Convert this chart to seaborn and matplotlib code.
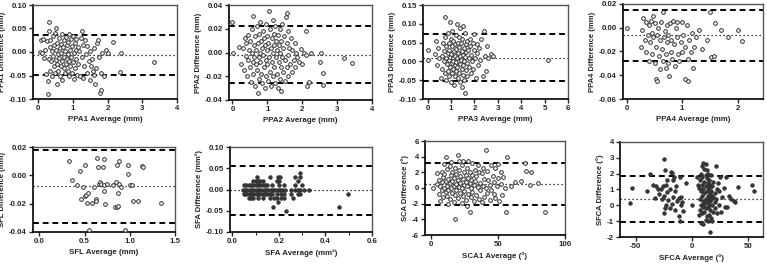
import numpy as np
import pandas as pd
import seaborn as sns
import matplotlib
matplotlib.use("Agg")
import matplotlib.pyplot as plt
from matplotlib.ticker import FuncFormatter, MultipleLocator

# --- DATA ---
ppa1_avg = [0.05, 0.08, 0.12, 0.15, 0.18, 0.2, 0.22, 0.25, 0.27, 0.28, 0.3, 0.3, 0.32, 0.33, 0.35, 0.35, 0.38, 0.4, 0.4,
            0.42, 0.43, 0.45, 0.45, 0.47, 0.48, 0.5, 0.5, 0.52, 0.53, 0.55, 0.55, 0.57, 0.58, 0.6, 0.6, 0.62, 0.63, 0.65,
            0.65, 0.67, 0.68, 0.7, 0.7, 0.72, 0.73, 0.75, 0.75, 0.77, 0.78, 0.8, 0.8, 0.82, 0.83, 0.85, 0.85, 0.87, 0.88,
            0.9, 0.9, 0.92, 0.93, 0.95, 0.95, 0.97, 0.98, 1.0, 1.0, 1.02, 1.03, 1.05, 1.05, 1.08, 1.1, 1.1, 1.12, 1.15,
            1.15, 1.18, 1.2, 1.22, 1.25, 1.25, 1.28, 1.3, 1.32, 1.35, 1.38, 1.4, 1.42, 1.45, 1.48, 1.5, 1.52, 1.55, 1.58,
            1.6, 1.62, 1.65, 1.68, 1.7, 1.72, 1.75, 1.78, 1.8, 1.82, 1.85, 1.9, 1.95, 2.0, 2.15, 2.35, 2.38, 3.35]
ppa1_diff = [0.0, 0.025, -0.002, 0.027, -0.012, 0.005, -0.046, 0.024, -0.062, -0.09, 0.063, 0.045, -0.015, 0.01, -0.04,
             0.026, -0.02, 0.002, -0.052, 0.035, -0.008, -0.03, 0.015, -0.045, 0.04, -0.018, 0.005, 0.052, -0.068,
             -0.025, 0.02, -0.005, -0.04, 0.03, -0.012, 0.008, -0.05, -0.03, 0.018, -0.002, 0.038, -0.02, -0.06, 0.01,
             -0.035, 0.025, -0.01, -0.045, 0.003, -0.025, 0.032, -0.015, 0.015, -0.04, -0.005, 0.022, -0.052, 0.038,
             -0.02, 0.005, -0.03, 0.028, -0.01, -0.045, 0.012, -0.022, 0.035, -0.002, -0.058, 0.02, -0.035, 0.005,
             -0.015, 0.028, -0.048, 0.01, -0.025, 0.002, -0.05, 0.03, 0.045, -0.01, -0.055, 0.015, -0.03, 0.025, -0.005,
             -0.045, 0.012, -0.02, -0.06, 0.002, -0.03, -0.015, -0.04, -0.048, 0.008, -0.068, -0.035, 0.02, 0.025,
             -0.01, -0.088, -0.08, -0.045, -0.002, -0.05, 0.005, -0.003, 0.022, -0.042, -0.002, -0.022]

ppa2_avg = [0.0, 0.02, 0.2, 0.25, 0.3, 0.32, 0.35, 0.38, 0.4, 0.42, 0.45, 0.45, 0.48, 0.5, 0.5, 0.52, 0.55, 0.55, 0.58,
            0.6, 0.6, 0.62, 0.63, 0.65, 0.65, 0.67, 0.68, 0.7, 0.7, 0.72, 0.72, 0.75, 0.75, 0.77, 0.78, 0.8, 0.8, 0.82,
            0.83, 0.85, 0.85, 0.87, 0.88, 0.9, 0.9, 0.92, 0.93, 0.95, 0.95, 0.97, 0.98, 1.0, 1.0, 1.02, 1.03, 1.05,
            1.05, 1.07, 1.08, 1.1, 1.1, 1.12, 1.13, 1.15, 1.15, 1.17, 1.18, 1.2, 1.2, 1.22, 1.23, 1.25, 1.25, 1.27,
            1.28, 1.3, 1.3, 1.32, 1.33, 1.35, 1.35, 1.37, 1.38, 1.4, 1.4, 1.42, 1.43, 1.45, 1.45, 1.48, 1.5, 1.5, 1.52,
            1.55, 1.55, 1.57, 1.58, 1.6, 1.6, 1.63, 1.65, 1.68, 1.7, 1.72, 1.75, 1.78, 1.8, 1.83, 1.85, 1.9, 1.95, 2.0,
            2.05, 2.1, 2.12, 2.15, 2.2, 2.25, 2.5, 2.55, 2.6, 2.6, 3.2, 3.42]
ppa2_diff = [0.026, 0.0, 0.005, -0.01, 0.004, -0.015, 0.012, -0.003, 0.008, -0.02, -0.006, 0.015, 0.002, -0.012, 0.01,
             -0.025, 0.0, 0.02, -0.008, 0.031, -0.018, 0.006, -0.004, 0.014, -0.028, -0.01, 0.002, 0.022, -0.015,
             -0.034, 0.008, -0.004, 0.016, -0.022, 0.0, 0.026, -0.008, 0.01, -0.018, 0.004, -0.026, 0.018, -0.002,
             -0.012, 0.012, -0.03, 0.006, -0.006, 0.024, -0.02, 0.002, 0.014, -0.01, -0.024, 0.008, 0.035, -0.004,
             0.02, -0.016, 0.004, -0.028, 0.012, -0.008, 0.027, -0.02, 0.0, 0.016, -0.012, 0.006, -0.026, 0.022,
             -0.004, 0.01, -0.018, 0.002, 0.015, -0.03, -0.008, 0.006, -0.022, 0.02, 0.0, -0.012, 0.01, -0.032,
             -0.004, 0.024, -0.016, 0.004, 0.014, -0.006, -0.024, 0.03, 0.008, -0.012, 0.033, -0.002, 0.018, -0.02,
             0.004, -0.01, 0.012, -0.016, 0.002, -0.006, 0.008, -0.012, 0.0, -0.004, -0.008, 0.003, -0.01, 0.0, 0.018,
             -0.002, -0.028, -0.025, 0.0, -0.008, 0.0, -0.017, -0.027, -0.005, -0.009]

ppa3_avg = [0.0, 0.02, 0.3, 0.35, 0.4, 0.45, 0.5, 0.55, 0.6, 0.62, 0.65, 0.68, 0.7, 0.72, 0.75, 0.75, 0.78, 0.8, 0.8,
            0.82, 0.85, 0.85, 0.88, 0.9, 0.9, 0.92, 0.93, 0.95, 0.95, 0.97, 0.98, 1.0, 1.0, 1.02, 1.03, 1.05, 1.05,
            1.07, 1.08, 1.1, 1.1, 1.12, 1.13, 1.15, 1.15, 1.17, 1.18, 1.2, 1.2, 1.22, 1.23, 1.25, 1.25, 1.27, 1.28,
            1.3, 1.3, 1.32, 1.33, 1.35, 1.35, 1.37, 1.38, 1.4, 1.4, 1.42, 1.43, 1.45, 1.45, 1.47, 1.48, 1.5, 1.5, 1.52,
            1.53, 1.55, 1.55, 1.57, 1.58, 1.6, 1.6, 1.62, 1.63, 1.65, 1.67, 1.68, 1.7, 1.72, 1.75, 1.77, 1.8, 1.82,
            1.85, 1.87, 1.9, 1.92, 1.95, 1.98, 2.0, 2.02, 2.05, 2.1, 2.12, 2.15, 2.2, 2.25, 2.3, 2.35, 2.4, 2.45, 2.5,
            2.55, 2.6, 2.7, 2.8, 5.15]
ppa3_diff = [0.03, 0.005, 0.02, 0.055, -0.01, 0.035, 0.008, -0.045, 0.015, -0.02, 0.05, 0.0, 0.028, -0.03, 0.118,
             0.065, 0.01, -0.05, 0.04, -0.008, 0.022, 0.075, -0.025, 0.005, 0.05, -0.04, 0.03, 0.105, -0.015, 0.012,
             0.06, -0.055, 0.02, -0.005, 0.04, -0.03, 0.08, 0.008, -0.02, 0.055, 0.0, -0.062, 0.028, -0.01, 0.045,
             0.015, -0.04, 0.07, -0.002, 0.033, -0.025, 0.1, 0.01, -0.015, 0.05, -0.045, 0.022, 0.0, 0.065, -0.03,
             0.038, -0.008, 0.015, 0.09, -0.055, 0.005, 0.048, -0.02, 0.028, -0.068, 0.06, -0.01, 0.018, 0.095,
             -0.035, 0.035, 0.002, -0.05, 0.075, -0.085, 0.012, 0.045, -0.022, 0.025, -0.005, 0.055, -0.04, 0.03,
             0.008, -0.015, 0.04, 0.06, -0.03, 0.018, 0.0, 0.05, -0.02, 0.03, 0.072, 0.01, -0.045, 0.022, 0.045,
             -0.01, 0.035, 0.005, 0.06, -0.04, 0.08, 0.015, -0.025, 0.04, 0.01, 0.02, 0.015, 0.003]

ppa4_avg = [0.0, 0.25, 0.28, 0.3, 0.32, 0.35, 0.35, 0.38, 0.4, 0.4, 0.42, 0.43, 0.45, 0.45, 0.47, 0.48, 0.5, 0.5, 0.52,
            0.53, 0.55, 0.55, 0.57, 0.58, 0.6, 0.6, 0.62, 0.63, 0.65, 0.65, 0.67, 0.68, 0.7, 0.7, 0.72, 0.73, 0.75,
            0.75, 0.77, 0.78, 0.8, 0.8, 0.82, 0.83, 0.85, 0.87, 0.88, 0.9, 0.9, 0.92, 0.95, 0.97, 1.0, 1.0, 1.02, 1.05,
            1.05, 1.08, 1.1, 1.1, 1.12, 1.15, 1.18, 1.2, 1.22, 1.25, 1.3, 1.35, 1.45, 1.5, 1.52, 1.58, 1.6, 1.7, 1.82,
            2.0, 2.08]
ppa4_diff = [0.0, -0.016, -0.002, 0.008, -0.01, 0.005, -0.02, -0.006, 0.002, -0.028, -0.012, 0.006, -0.004, -0.022,
             0.01, -0.008, -0.03, 0.004, -0.016, -0.043, -0.006, -0.045, 0.0, -0.024, -0.01, -0.035, 0.005, -0.018,
             -0.028, 0.013, -0.008, -0.003, -0.022, -0.034, 0.002, -0.012, -0.03, -0.006, -0.041, 0.004, -0.02, -0.01,
             -0.026, 0.006, -0.014, -0.032, 0.0, -0.008, 0.005, -0.022, -0.028, -0.012, 0.005, -0.02, -0.006, -0.043,
             -0.016, 0.002, -0.045, -0.026, -0.01, -0.02, -0.004, -0.034, -0.016, -0.008, -0.002, -0.018, -0.01,
             0.013, -0.025, -0.024, 0.004, -0.002, -0.008, -0.002, -0.011]

sfl_avg = [0.33, 0.36, 0.42, 0.45, 0.46, 0.48, 0.5, 0.51, 0.52, 0.53, 0.54, 0.55, 0.58, 0.6, 0.63, 0.63, 0.64, 0.65,
           0.66, 0.67, 0.68, 0.7, 0.71, 0.72, 0.72, 0.73, 0.75, 0.82, 0.84, 0.85, 0.86, 0.86, 0.87, 0.87, 0.88, 0.88,
           0.9, 0.95, 0.98, 0.98, 1.0, 1.02, 1.04, 1.09, 1.14, 1.15, 1.35]
sfl_diff = [0.0098, -0.0035, -0.0069, 0.0032, -0.017, -0.008, -0.0149, 0.0074, -0.0137, -0.0194, -0.0125, -0.0383,
            -0.0194, -0.008, -0.017, -0.0182, 0.0122, 0.006, -0.0058, -0.0047, -0.0058, 0.006, 0.0115, -0.0113,
            -0.0069, -0.0204, -0.0058, -0.0069, -0.0227, -0.0047, -0.0227, 0.0074, -0.0125, -0.0215, 0.0098, -0.0058,
            -0.008, -0.0383, 0.0074, 0.001, -0.0069, -0.0069, -0.0182, -0.0182, 0.0067, 0.006, -0.0194]

sfa_avg = [0.105, 0.16, 0.195, 0.205, 0.27, 0.29, 0.29,
           0.09, 0.1, 0.11, 0.12, 0.13, 0.19, 0.2, 0.28,
           0.05, 0.06, 0.07, 0.08, 0.09, 0.1, 0.11, 0.12, 0.13, 0.14, 0.15, 0.17, 0.2, 0.22, 0.27, 0.3,
           0.045, 0.055, 0.065, 0.075, 0.085, 0.095, 0.105, 0.115, 0.125, 0.135, 0.145, 0.155, 0.165, 0.175, 0.185,
           0.195, 0.205, 0.215, 0.225, 0.25, 0.27, 0.28, 0.29, 0.31, 0.33,
           0.05, 0.06, 0.07, 0.08, 0.09, 0.1, 0.11, 0.12, 0.13, 0.14, 0.15, 0.16, 0.17, 0.19, 0.21, 0.22, 0.25, 0.28,
           0.29, 0.495,
           0.07, 0.08, 0.09, 0.11, 0.13, 0.16, 0.18, 0.19, 0.21, 0.22, 0.26,
           0.195, 0.175, 0.46, 0.23]
sfa_diff = [0.03] * 6 + [0.04] + [0.02] * 8 + [0.01] * 16 + [0.0] * 25 + [-0.01] * 20 + [-0.02] * 11 + \
           [-0.03, -0.04, -0.04, -0.05]

sca_avg = [2, 5, 5, 6, 6, 7, 7, 8, 8, 8, 9, 9, 10, 10, 10, 11, 11, 11, 12, 12, 12, 13, 13, 13, 14, 14, 14, 15, 15, 15,
           16, 16, 16, 17, 17, 17, 18, 18, 18, 19, 19, 19, 20, 20, 20, 21, 21, 21, 22, 22, 22, 23, 23, 23, 24, 24, 24,
           25, 25, 25, 26, 26, 26, 27, 27, 27, 28, 28, 28, 29, 29, 29, 30, 30, 30, 31, 31, 31, 32, 32, 33, 33, 34, 34,
           35, 35, 36, 36, 37, 37, 38, 38, 39, 39, 40, 40, 41, 41, 42, 42, 43, 44, 44, 45, 45, 46, 47, 47, 48, 48, 49,
           50, 50, 51, 52, 52, 53, 54, 55, 57, 56, 60, 63, 67, 70, 71, 74, 75, 80, 85]
sca_diff = [0.0, 0.5, 1.9, -0.8, 1.0, 0.2, -1.6, 2.1, 0.8, -0.3, 1.4, -1.2, 0.0, 3.1, 1.8, -0.5, 0.9, 4.0, 2.4, -1.0,
            0.3, 1.2, -0.2, -2.0, 2.8, 0.6, -1.4, 1.6, 0.0, 3.3, -0.6, 2.0, 0.9, -1.8, 1.3, 0.2, 2.6, -0.9, -4.0, 0.5,
            1.8, -0.2, 4.2, 1.0, -1.3, 2.3, 0.1, 3.5, -0.7, 1.5, 0.6, -1.9, 2.9, 0.0, 1.1, -1.0, 3.4, 0.4, 2.1, -0.4,
            1.6, -1.5, 0.8, -2.3, 2.5, 0.2, 1.3, -0.8, 3.5, -3.0, 0.6, 2.0, -1.2, 1.0, 0.0, 3.2, -0.5, 1.7, 0.4, -1.7,
            2.3, 0.9, -0.9, 1.5, 3.0, 0.1, -1.4, 2.0, 0.7, -0.3, 1.9, -1.8, 0.3, 2.6, -1.1, 1.2, 4.9, 0.0, -0.6, 2.2,
            1.0, -1.5, 0.4, 2.9, -0.2, 1.5, -0.8, 0.8, 2.5, -1.3, 0.2, 1.3, 3.1, -1.7, 0.5, 2.1, -0.9, 1.4, 0.0, 3.9,
            -3.1, 0.3, 0.8, 0.9, 3.2, 2.2, 0.4, 2.0, 0.6, -3.0]

sfca_avg = [-55, -53, -40, -37, -35, -33, -32, -30, -29, -28, -27, -26, -25, -25, -25, -24, -24, -23, -23, -22, -22,
            -21, -20, -20, -19, -18, -18, -17, -17, -16, -15, -15, -14, -13, -12, -12, -11, -11, -10, -10, -9, -8, -5,
            0, 4, 5,
            6, 6, 7, 7, 7, 8, 8, 8, 8, 9, 9, 9, 9, 9, 10, 10, 10, 10, 10, 11, 11, 11, 11, 11, 12, 12, 12, 12, 12, 12,
            13, 13, 13, 13, 13, 14, 14, 14, 14, 14, 15, 15, 15, 15, 15, 16, 16, 16, 16, 16, 17, 17, 17, 17, 18, 18,
            18, 18, 19, 19, 19, 20, 20, 20, 21, 21, 22, 22,
            23, 24, 24, 25, 26, 27, 28, 29, 30, 31, 33, 35, 37, 38, 41, 53, 55]
sfca_diff = [0.15, 1.1, 0.9, 1.95, 1.3, 0.45, 1.2, 1.05, 0.7, 1.0, 0.4, 1.25, 2.95, 0.6, -0.5, 2.2, -0.15, 0.0, 1.3,
             1.6, 0.85, 0.35, -0.2, 1.0, 2.1, 2.05, 0.1, 1.6, 0.5, 1.8, -0.3, 0.9, 1.2, 0.3, 0.45, -0.65, 1.8, -1.0,
             0.5, 0.05, 0.2, -0.35, 1.4, 0.0, 1.8, 1.3,
             1.1, -0.6, 0.4, 1.6, -0.3, 2.0, 0.9, 0.0, -1.1, 2.5, 1.3, 0.6, -0.5, 1.8, 2.7, 0.3, -0.1, 1.0, -1.2,
             2.3, 1.5, 0.8, 0.1, -0.4, 2.6, 1.9, 1.2, 0.4, -0.2, -0.9, 1.7, 0.9, 0.2, -0.7, 2.2, 1.4, 0.6, -0.1, -1.0,
             2.0, 1.1, 0.5, 0.0, -0.6, 1.6, 0.8, 0.3, -1.7, 1.3, -0.3, 0.9, 0.4, -0.8, 1.9, 0.6, 0.0, -1.0, 1.2, 0.5,
             -0.4, 1.5, 0.8, 0.2, -0.2, 2.5, 0.4, 1.0, -0.5,
             1.4, 0.9, 0.0, 1.8, -0.4, 0.5, 1.1, -0.1, 1.8, -0.1, 0.6, 0.4, 0.3, 0.2, 1.15, 1.3, 0.9]

# bias (dotted) and limits of agreement (dashed): lower, mean, upper
ppa1_loa = [-0.048, -0.006, 0.036]
ppa2_loa = [-0.026, -0.002, 0.022]
ppa3_loa = [-0.053, 0.009, 0.072]
ppa4_loa = [-0.028, -0.0065, 0.015]
sfl_loa = [-0.0335, -0.0078, 0.018]
sfa_loa = [-0.06, 0.0, 0.056]
sca_loa = [-2.2, 0.5, 3.2]
sfca_loa = [-1.05, 0.4, 1.85]

x_labels = ["PPA1 Average (mm)", "PPA2 Average (mm)", "PPA3 Average (mm)", "PPA4 Average (mm)",
            "SFL Average (mm)", "SFA Average (mm²)", "SCA1 Average (°)", "SFCA Average (°)"]
y_labels = ["PPA1 Difference (mm)", "PPA2 Difference (mm)", "PPA3 Difference (mm)", "PPA4 Difference (mm)",
            "SFL Difference (mm)", "SFA Difference (mm²)", "SCA Difference (°)", "SFCA Difference (°)"]

# --- LAYOUT (pixel boxes: left, right, top, bottom) ---
W, H = 767, 264
panels = [
    # x, y, loa, box, xlim, xticks, ylim, yticks, xfmt, yfmt, filled
    (ppa1_avg, ppa1_diff, ppa1_loa, (33, 177, 5, 99), (-0.15, 4), [0, 1, 2, 3, 4], (-0.10, 0.10),
     np.arange(-0.10, 0.101, 0.05), "{:.0f}", "{:.2f}", False),
    (ppa2_avg, ppa2_diff, ppa2_loa, (229, 372, 5, 100), (-0.1, 4), [0, 1, 2, 3, 4], (-0.04, 0.04),
     np.arange(-0.04, 0.041, 0.02), "{:.0f}", "{:.2f}", False),
    (ppa3_avg, ppa3_diff, ppa3_loa, (423, 568, 5, 99), (-0.2, 6), [0, 1, 2, 3, 4, 5, 6], (-0.10, 0.15),
     np.arange(-0.10, 0.151, 0.05), "{:.0f}", "{:.2f}", False),
    (ppa4_avg, ppa4_diff, ppa4_loa, (623, 763, 4, 99), (-0.07, 2.46), [0, 1, 2], (-0.06, 0.02),
     np.arange(-0.06, 0.021, 0.02), "{:.0f}", "{:.2f}", False),
    (sfl_avg, sfl_diff, sfl_loa, (33, 175, 147, 232), (-0.07, 1.5), [0, 0.5, 1.0, 1.5], (-0.04, 0.02),
     np.arange(-0.04, 0.021, 0.02), "{:.1f}", "{:.2f}", False),
    (sfa_avg, sfa_diff, sfa_loa, (230, 372, 147, 232), (-0.01, 0.6), [0, 0.2, 0.4, 0.6], (-0.10, 0.10),
     np.arange(-0.10, 0.101, 0.05), "{:.1f}", "{:.2f}", True),
    (sca_avg, sca_diff, sca_loa, (425, 565, 141, 235), (-4.3, 100), [0, 50, 100], (-6, 6),
     np.arange(-6, 6.1, 2), "{:.0f}", "{:.0f}", False),
    (sfca_avg, sfca_diff, sfca_loa, (620, 763, 142, 237), (-64, 63), [-50, 0, 50], (-2, 4),
     np.arange(-2, 4.1, 1), "{:.0f}", "{:.0f}", True),
]

sns.set_theme(style="ticks")
plt.rcParams["font.family"] = ["Liberation Sans", "DejaVu Sans"]
plt.rcParams["axes.unicode_minus"] = False

fig = plt.figure(figsize=(W / 100, H / 100), dpi=100)

for i, (xs, ys, loa, box, xlim, xticks, ylim, yticks, xfmt, yfmt, filled) in enumerate(panels):
    l, r, t, b = box
    ax = fig.add_axes([l / W, 1 - b / H, (r - l) / W, (b - t) / H])
    df = pd.DataFrame({"avg": xs, "diff": ys})

    sns.scatterplot(
        data=df, x="avg", y="diff", ax=ax,
        s=7 if not filled else 6,
        facecolor="#3a3a3a" if filled else "white",
        edgecolor="#2e2e2e", linewidth=0.7, zorder=3,
    )

    lo, mid, hi = loa
    ax.axhline(hi, color="black", lw=1.4, ls=(0, (3.0, 2.0)), zorder=2)
    ax.axhline(lo, color="black", lw=1.4, ls=(0, (3.0, 2.0)), zorder=2)
    ax.axhline(mid, color="black", lw=0.9, ls=(0, (1, 2.2)), zorder=2)

    ax.set_xlim(*xlim)
    ax.set_ylim(*ylim)
    ax.set_xticks(xticks)
    ax.set_yticks(yticks)
    ax.xaxis.set_major_formatter(FuncFormatter(lambda v, p, f=xfmt: f.format(v)))
    ax.yaxis.set_major_formatter(FuncFormatter(lambda v, p, f=yfmt: f.format(0.0 if abs(v) < 1e-9 else v)))
    if i == 5:
        ax.xaxis.set_minor_locator(MultipleLocator(0.1))

    ax.set_xlabel(x_labels[i], fontsize=5.7, fontweight="bold", labelpad=3)
    ax.set_ylabel(y_labels[i], fontsize=5.5, fontweight="bold", labelpad=2)
    ax.tick_params(axis="both", which="major", labelsize=5.7, length=3, width=1, pad=1.5, direction="out")
    ax.tick_params(axis="both", which="minor", length=2, width=0.8)
    for lab in ax.get_xticklabels() + ax.get_yticklabels():
        lab.set_fontweight("bold")

    for side in ["left", "bottom"]:
        ax.spines[side].set_color("black")
        ax.spines[side].set_linewidth(1.2)
    for side in ["top", "right"]:
        ax.spines[side].set_color("#555555")
        ax.spines[side].set_linewidth(1.0)
    ax.set_facecolor("white")

fig.savefig("out.png", dpi=100, facecolor="white")
plt.close(fig)
